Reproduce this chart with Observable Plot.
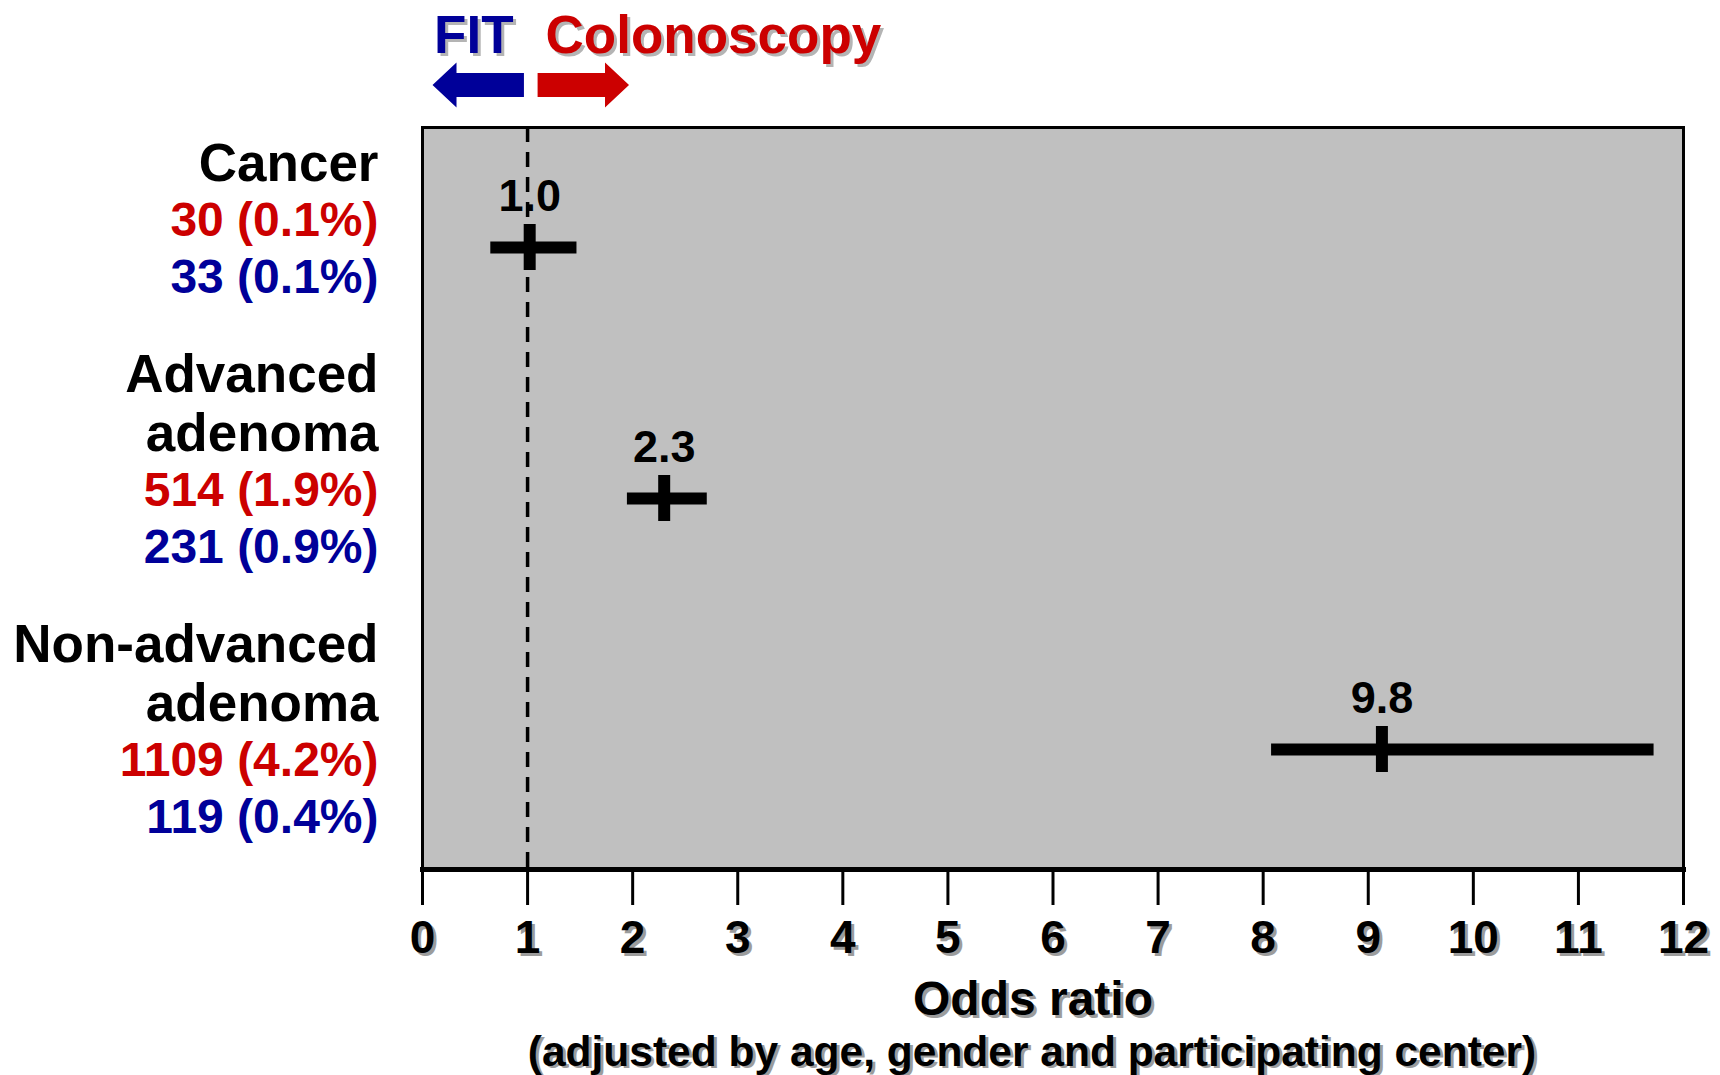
<!DOCTYPE html>
<html>
<head>
<meta charset="utf-8">
<script src="https://cdn.jsdelivr.net/npm/d3@7"></script>
<script src="https://cdn.jsdelivr.net/npm/@observablehq/plot@0.6"></script>
<style>
html, body { margin: 0; padding: 0; background: #fff; }
#wrap { position: relative; width: 1720px; height: 1075px; overflow: hidden; }
#wrap svg { position: absolute; left: 0; top: 0; }
</style>
</head>
<body>
<div id="wrap"></div>
<script>
// ---- data ----
const categories = ["Cancer", "Advanced adenoma", "Non-advanced adenoma"];
const categoryLines = ["Cancer", "Advanced\nadenoma", "Non-advanced\nadenoma"];
const colonoscopyCounts = ["30 (0.1%)", "514 (1.9%)", "1109 (4.2%)"];
const fitCounts = ["33 (0.1%)", "231 (0.9%)", "119 (0.4%)"];
const oddsRatio = [1.02, 2.30, 9.13];
const ciLow = [0.65, 1.95, 8.08];
const ciHigh = [1.47, 2.71, 11.72];
const orLabels = ["1.0", "2.3", "9.8"];
const xTicks = [0, 1, 2, 3, 4, 5, 6, 7, 8, 9, 10, 11, 12];
const referenceLine = [1];
const headerLabels = ["FIT", "Colonoscopy"];
const arrowFrom = [0.97, 1.10];
const arrowTo = [0.10, 1.97];
const xLabel = ["Odds ratio"];
const xSubLabel = ["(adjusted by age, gender and participating center)"];

// ---- styles ----
const FONT = '"Liberation Sans", Arial, Helvetica, sans-serif';
const RED = "#cc0000";
const BLUE = "#000099";
const SHADOW = "#9c9c9c";
const PANEL = "#c0c0c0";

const rows = categories.map((c, i) => ({
  category: c,
  lines: categoryLines[i],
  colo: colonoscopyCounts[i],
  fit: fitCounts[i],
  or: oddsRatio[i],
  lo: ciLow[i],
  hi: ciHigh[i],
  label: orLabels[i]
}));
const arrowSpecs = [
  {from: arrowFrom[0], to: arrowTo[0], color: BLUE},
  {from: arrowFrom[1], to: arrowTo[1], color: RED}
];

function arrowsMark(index, scales, values, dims) {
  const g = d3.create("svg:g");
  const cy = dims.marginTop - 42;
  const head = 24, hh = 22.5, sh = 12;
  for (const a of arrowSpecs) {
    const x0 = scales.x(a.from), x1 = scales.x(a.to);
    const dir = Math.sign(x1 - x0);
    const xb = x1 - dir * head;
    const pts = [[x0, cy - sh], [xb, cy - sh], [xb, cy - hh], [x1, cy], [xb, cy + hh], [xb, cy + sh], [x0, cy + sh]];
    g.append("path").attr("d", "M" + pts.map(p => p.join(",")).join("L") + "Z").attr("fill", a.color);
  }
  return g.node();
}

const main = Plot.plot({
  width: 1720,
  height: 1075,
  marginLeft: 422,
  marginRight: 37,
  marginTop: 127,
  marginBottom: 206,
  style: {fontFamily: FONT, background: "transparent", overflow: "visible"},
  x: {domain: [0, 12]},
  y: {type: "point", domain: categories, padding: 0.477, axis: null},
  marks: [
    Plot.frame({fill: PANEL, stroke: "#000", strokeWidth: 3}),
    Plot.ruleX(referenceLine, {x: d => d, stroke: "#000", strokeWidth: 3.5, strokeDasharray: "15,10"}),
    Plot.ruleY(rows, {y: "category", x1: "lo", x2: "hi", stroke: "#000", strokeWidth: 12}),
    Plot.ruleX(rows, {x: "or", y1: "category", y2: "category", insetTop: -23, insetBottom: -23, stroke: "#000", strokeWidth: 12}),
    Plot.text(rows, {x: "or", y: "category", text: "label", lineAnchor: "bottom", dy: -37, fontSize: 45, fontWeight: "bold", fill: "#000"}),
    Plot.frame({anchor: "bottom", stroke: "#000", strokeWidth: 5}),
    Plot.axisX(xTicks, {anchor: "bottom", tickSize: 36, tickPadding: 15, stroke: "none", fill: SHADOW, dx: 3, dy: 3, fontSize: 46, fontWeight: "bold", label: null}),
    Plot.axisX(xTicks, {anchor: "bottom", tickSize: 36, tickPadding: 15, stroke: "#000", strokeWidth: 3, fill: "#000", fontSize: 46, fontWeight: "bold", label: null}),
    // axis titles with shadow
    Plot.text(xLabel, {frameAnchor: "bottom", lineAnchor: "bottom", dx: -17, dy: 148, fontSize: 48, fontWeight: "bold", fill: SHADOW}),
    Plot.text(xLabel, {frameAnchor: "bottom", lineAnchor: "bottom", dx: -20, dy: 145, fontSize: 48, fontWeight: "bold", fill: "#000"}),
    Plot.text(xSubLabel, {frameAnchor: "bottom", lineAnchor: "bottom", dx: -18, dy: 198, fontSize: 42.5, fontWeight: "bold", fill: SHADOW}),
    Plot.text(xSubLabel, {frameAnchor: "bottom", lineAnchor: "bottom", dx: -21, dy: 196, fontSize: 42.5, fontWeight: "bold", fill: "#000"}),
    // header
    Plot.text([headerLabels[0]], {x: () => referenceLine[0], frameAnchor: "top", lineAnchor: "bottom", textAnchor: "end", dx: -11, dy: -72, fontSize: 53, fontWeight: "bold", fill: "#b4b4b4"}),
    Plot.text([headerLabels[0]], {x: () => referenceLine[0], frameAnchor: "top", lineAnchor: "bottom", textAnchor: "end", dx: -14, dy: -75, fontSize: 53, fontWeight: "bold", fill: BLUE}),
    Plot.text([headerLabels[1]], {x: () => referenceLine[0], frameAnchor: "top", lineAnchor: "bottom", textAnchor: "start", dx: 21, dy: -72, fontSize: 53, fontWeight: "bold", fill: "#b4b4b4"}),
    Plot.text([headerLabels[1]], {x: () => referenceLine[0], frameAnchor: "top", lineAnchor: "bottom", textAnchor: "start", dx: 18, dy: -75, fontSize: 53, fontWeight: "bold", fill: RED}),
    arrowsMark
  ]
});

const labels = Plot.plot({
  width: 1720,
  height: 1075,
  marginLeft: 0,
  marginRight: 1342,
  marginTop: 235,
  marginBottom: 300,
  style: {fontFamily: FONT, background: "transparent", overflow: "visible"},
  y: {type: "point", domain: categories, padding: 0, axis: null},
  marks: [
    Plot.text(rows, {y: "category", text: "lines", frameAnchor: "right", textAnchor: "end", lineAnchor: "bottom", lineHeight: 1.1, dy: -55, fontSize: 53, fontWeight: "bold", fill: "#000"}),
    Plot.text(rows, {y: "category", text: "colo", frameAnchor: "right", textAnchor: "end", lineAnchor: "bottom", fontSize: 48, fontWeight: "bold", fill: RED}),
    Plot.text(rows, {y: "category", text: "fit", frameAnchor: "right", textAnchor: "end", lineAnchor: "bottom", dy: 57, fontSize: 48, fontWeight: "bold", fill: BLUE})
  ]
});
labels.style.pointerEvents = "none";

const wrap = document.getElementById("wrap");
wrap.appendChild(main);
wrap.appendChild(labels);
</script>
</body>
</html>
